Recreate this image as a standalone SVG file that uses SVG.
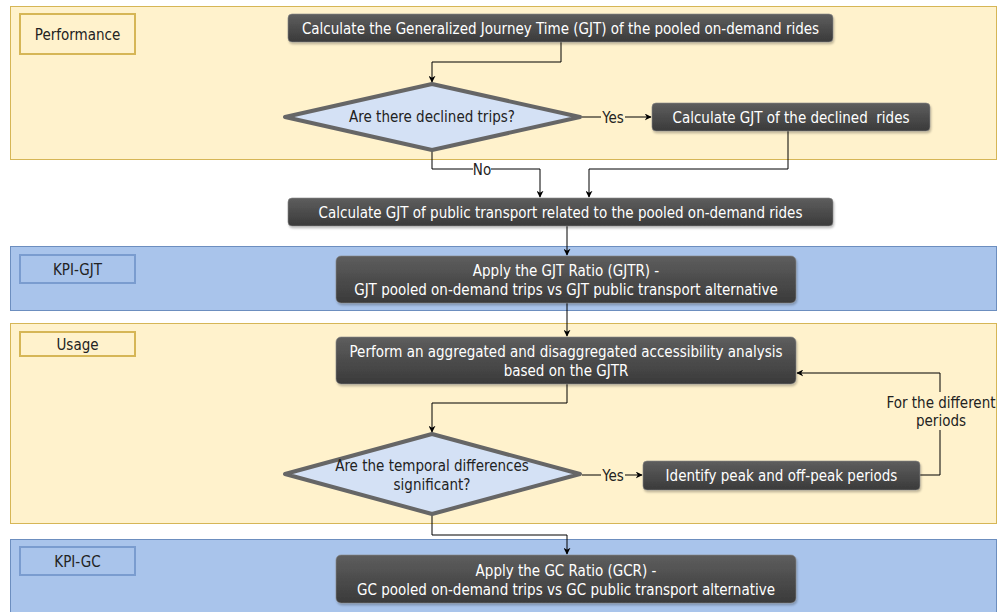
<svg xmlns="http://www.w3.org/2000/svg" width="1000" height="612" viewBox="0 0 1000 612">
<defs>
<linearGradient id="dark" x1="0" y1="0" x2="0" y2="1">
<stop offset="0" stop-color="#5e5e5e"/>
<stop offset="1" stop-color="#3a3a3a"/>
</linearGradient>
<filter id="sh" x="-5%" y="-20%" width="110%" height="150%">
<feDropShadow dx="1" dy="2" stdDeviation="1.2" flood-color="#000" flood-opacity="0.25"/>
</filter>
<marker id="arr" viewBox="0 0 10 10" refX="9" refY="5" markerWidth="7" markerHeight="7" orient="auto" markerUnits="userSpaceOnUse">
<path d="M0,0 L10,5 L0,10 L3,5 Z" fill="#000"/>
</marker>
</defs>
<style>
.laneY{fill:#fff2cc;stroke:#d6b656;stroke-width:1}
.laneB{fill:#a9c4eb;stroke:#6c8ebf;stroke-width:1}
.labY{fill:#fff2cc;stroke:#d6b656;stroke-width:2}
.labB{fill:#a9c4eb;stroke:#7a9ccf;stroke-width:2}
.lt{font-family:"DejaVu Sans Condensed","Liberation Sans",sans-serif;font-size:15px;fill:#222;text-anchor:middle}
.box{fill:url(#dark);stroke:#888;stroke-width:0.6;filter:url(#sh)}
.bt{font-family:"DejaVu Sans Condensed","Liberation Sans",sans-serif;font-size:15px;fill:#fff;text-anchor:middle}
.dia{fill:#d4e1f5;stroke:#666;stroke-width:4;stroke-linejoin:round}
.dt{font-family:"DejaVu Sans Condensed","Liberation Sans",sans-serif;font-size:15px;fill:#222;text-anchor:middle}
.e{fill:none;stroke:#000;stroke-width:1}
.el{font-family:"DejaVu Sans Condensed","Liberation Sans",sans-serif;font-size:15px;fill:#222;text-anchor:middle}
</style>

<g id="lane-performance">
<rect class="laneY" x="10.5" y="6.5" width="986" height="153"/>
<rect class="labY" x="20" y="14" width="115" height="40"/>
<text class="lt" x="77.5" y="39.5">Performance</text>
</g>
<g id="lane-kpi-gjt">
<rect class="laneB" x="10.5" y="246.5" width="986" height="64"/>
<rect class="labB" x="20" y="255" width="115" height="28"/>
<text class="lt" x="77.5" y="274.5">KPI-GJT</text>
</g>
<g id="lane-usage">
<rect class="laneY" x="10.5" y="323.5" width="986" height="200"/>
<rect class="labY" x="20" y="332" width="115" height="24"/>
<text class="lt" x="77.5" y="350">Usage</text>
</g>
<g id="lane-kpi-gc">
<rect class="laneB" x="10.5" y="539.5" width="986" height="80"/>
<rect class="labB" x="20" y="547" width="115" height="28"/>
<text class="lt" x="77.5" y="566.5">KPI-GC</text>
</g>

<g id="connectors">
<path class="e" d="M561,42 V62 H432 V82" marker-end="url(#arr)"/>
<path class="e" d="M582,117 H651" marker-end="url(#arr)"/>
<rect x="601" y="109" width="24" height="16" fill="#fff2cc"/>
<text class="el" x="613" y="122.5">Yes</text>
<path class="e" d="M432,151 V169 H540 V197" marker-end="url(#arr)"/>
<rect x="473" y="162" width="18" height="15" fill="#fff"/>
<text class="el" x="482" y="175">No</text>
<path class="e" d="M788,131 V169 H589 V197" marker-end="url(#arr)"/>
<path class="e" d="M567,226 V255" marker-end="url(#arr)"/>
<path class="e" d="M567,303 V336" marker-end="url(#arr)"/>
<path class="e" d="M567,372 V403 H432 V432" marker-end="url(#arr)"/>
<path class="e" d="M582,475 H642" marker-end="url(#arr)"/>
<rect x="601" y="467" width="24" height="16" fill="#fff2cc"/>
<text class="el" x="613" y="480.5">Yes</text>
<path class="e" d="M920,475 H940 V373 H797" marker-end="url(#arr)"/>
<rect x="885" y="392" width="111" height="38" fill="#fff2cc"/>
<text class="el" x="941" y="408">For the different</text>
<text class="el" x="941" y="426">periods</text>
<path class="e" d="M432,515 V535 H567 V554" marker-end="url(#arr)"/>
</g>

<g id="n1">
<rect class="box" x="288" y="14" width="545" height="28" rx="4"/>
<text class="bt" x="560.5" y="33.5">Calculate the Generalized Journey Time (GJT) of the pooled on-demand rides</text>
</g>
<g id="n2">
<polygon class="dia" points="432,84 580,117 432,150 285,117"/>
<text class="dt" x="432" y="122">Are there declined trips?</text>
</g>
<g id="n3">
<rect class="box" x="652" y="103" width="278" height="28" rx="4"/>
<text class="bt" x="791" y="122.5" xml:space="preserve">Calculate GJT of the declined  rides</text>
</g>
<g id="n4">
<rect class="box" x="288" y="198" width="545" height="28" rx="4"/>
<text class="bt" x="560.5" y="217.5">Calculate GJT of public transport related to the pooled on-demand rides</text>
</g>
<g id="n5">
<rect class="box" x="336" y="256" width="460" height="47" rx="5"/>
<text class="bt" x="566" y="276">Apply the GJT Ratio (GJTR) -</text>
<text class="bt" x="566" y="295">GJT pooled on-demand trips vs GJT public transport alternative</text>
</g>
<g id="n6">
<rect class="box" x="336" y="337" width="460" height="47" rx="5"/>
<text class="bt" x="566" y="357">Perform an aggregated and disaggregated accessibility analysis</text>
<text class="bt" x="566" y="376">based on the GJTR</text>
</g>
<g id="n7">
<polygon class="dia" points="432,434 580,474 432,514 285,474"/>
<text class="dt" x="432" y="471">Are the temporal differences</text>
<text class="dt" x="432" y="490">significant?</text>
</g>
<g id="n8">
<rect class="box" x="643" y="461" width="277" height="29" rx="4"/>
<text class="bt" x="781.5" y="481">Identify peak and off-peak periods</text>
</g>
<g id="n9">
<rect class="box" x="336" y="555" width="460" height="48" rx="5"/>
<text class="bt" x="566" y="576">Apply the GC Ratio (GCR) -</text>
<text class="bt" x="566" y="595" textLength="418" lengthAdjust="spacingAndGlyphs">GC pooled on-demand trips vs GC public transport alternative</text>
</g>
</svg>
